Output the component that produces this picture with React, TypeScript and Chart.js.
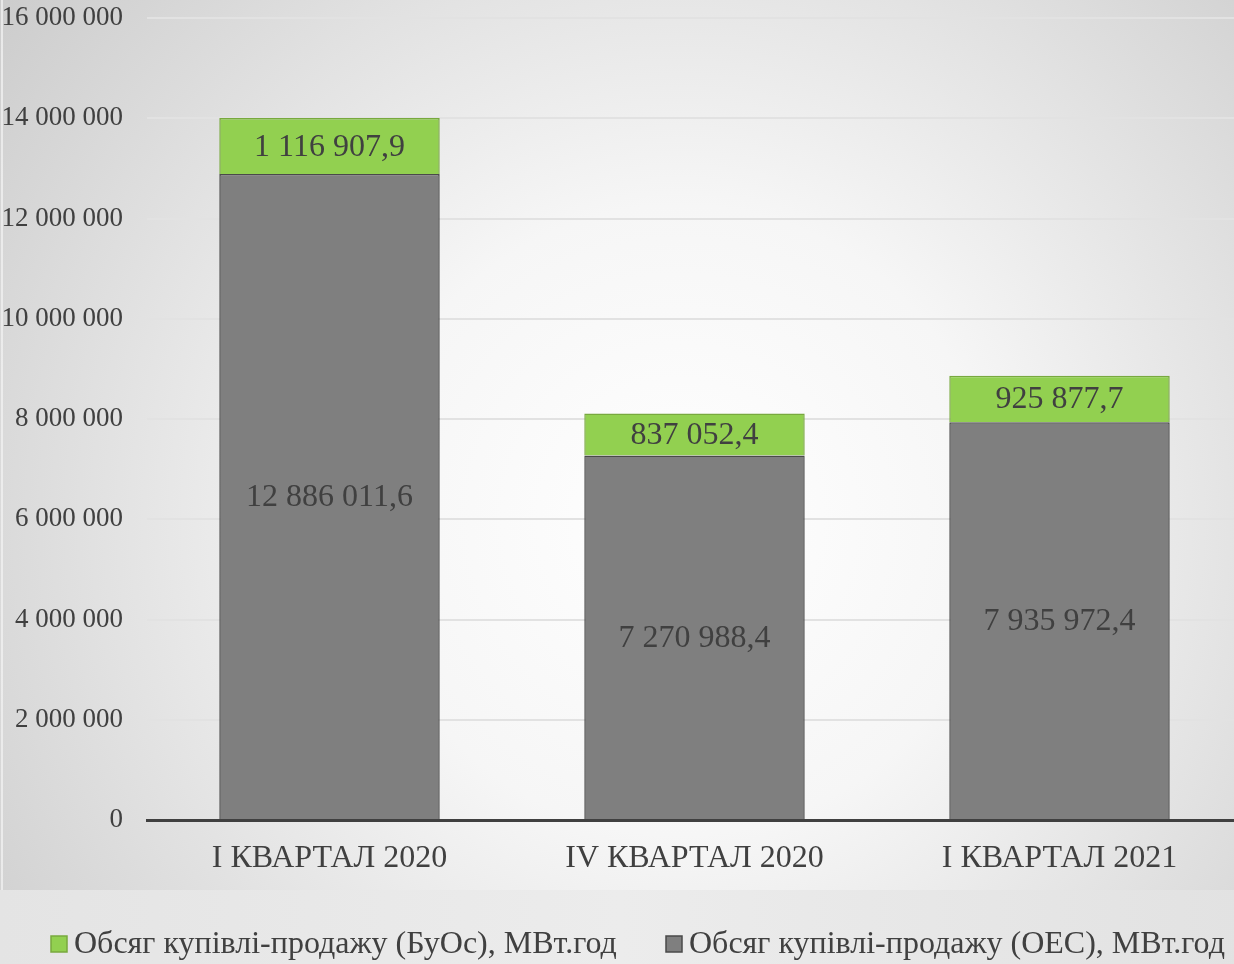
import React, { useEffect, useRef } from "react";
import { Chart, registerables } from "chart.js";

Chart.register(...registerables);

const categories = ["I КВАРТАЛ 2020", "IV КВАРТАЛ 2020", "I КВАРТАЛ 2021"];
const oesValues = [12886011.6, 7270988.4, 7935972.4];
const buosValues = [1116907.9, 837052.4, 925877.7];
const seriesNames = [
  "Обсяг купівлі-продажу (БуОс), МВт.год",
  "Обсяг купівлі-продажу (ОЕС), МВт.год",
];
const yTicks = [0, 2000000, 4000000, 6000000, 8000000, 10000000, 12000000, 14000000, 16000000];

const FONT = "'Liberation Serif', 'Times New Roman', serif";
const GREEN = "#92d050";
const GREEN_BORDER = "#78a93e";
const GRAY = "#7f7f7f";
const GRAY_BORDER = "#4a4a4a";
const TEXT = "#404040";

function groupThousands(intStr: string): string {
  let out = "";
  for (let i = 0; i < intStr.length; i++) {
    const fromEnd = intStr.length - i;
    out += intStr[i];
    if (fromEnd > 1 && (fromEnd - 1) % 3 === 0) out += " ";
  }
  return out;
}

function fmtDecimal(v: number): string {
  const s = v.toFixed(1);
  const [i, d] = s.split(".");
  return groupThousands(i) + "," + d;
}

function fmtInt(v: number): string {
  return groupThousands(Math.round(v).toString());
}

const backgroundPlugin = {
  id: "bgPlugin",
  beforeDraw(chart: any) {
    const { ctx, width, height } = chart;
    ctx.save();
    const g = ctx.createRadialGradient(680, 520, 0, 680, 520, 900);
    g.addColorStop(0, "#ffffff");
    g.addColorStop(0.35, "#f6f6f6");
    g.addColorStop(1, "#c9c9c9");
    ctx.fillStyle = g;
    ctx.fillRect(0, 0, width, 890);
    const g2 = ctx.createLinearGradient(0, 0, width, 0);
    g2.addColorStop(0, "#e4e4e4");
    g2.addColorStop(0.5, "#ececec");
    g2.addColorStop(1, "#e2e2e2");
    ctx.fillStyle = g2;
    ctx.fillRect(0, 890, width, height - 890);
    ctx.fillStyle = "rgba(240,240,240,0.8)";
    ctx.fillRect(1, 0, 2, 890);
    ctx.restore();
  },
};

const labelsPlugin = {
  id: "barLabels",
  afterDatasetsDraw(chart: any) {
    const { ctx } = chart;
    ctx.save();
    ctx.font = `32px ${FONT}`;
    ctx.fillStyle = TEXT;
    ctx.textAlign = "center";
    ctx.textBaseline = "middle";
    chart.data.datasets.forEach((ds: any, di: number) => {
      const meta = chart.getDatasetMeta(di);
      meta.data.forEach((bar: any, i: number) => {
        const y = (bar.y + bar.base) / 2;
        ctx.fillText(fmtDecimal(ds.data[i]), bar.x, y + 1);
      });
    });
    ctx.restore();
  },
  afterDraw(chart: any) {
    const { ctx } = chart;
    ctx.save();
    ctx.font = `32px ${FONT}`;
    ctx.fillStyle = TEXT;
    ctx.textAlign = "left";
    ctx.textBaseline = "middle";
    const items = [
      { x: 51, color: GREEN, border: GREEN_BORDER, text: seriesNames[0] },
      { x: 666, color: GRAY, border: GRAY_BORDER, text: seriesNames[1] },
    ];
    const cy = 944;
    items.forEach((it) => {
      ctx.fillStyle = it.color;
      ctx.fillRect(it.x, cy - 8, 16, 16);
      ctx.strokeStyle = it.border;
      ctx.lineWidth = 1.5;
      ctx.strokeRect(it.x, cy - 8, 16, 16);
      ctx.fillStyle = TEXT;
      ctx.fillText(it.text, it.x + 23, cy + 1);
    });
    ctx.restore();
  },
};

export default function App() {
  const ref = useRef<HTMLCanvasElement>(null);
  useEffect(() => {
    document.body.style.margin = "0";
    const chart = new Chart(ref.current as HTMLCanvasElement, {
      type: "bar",
      data: {
        labels: categories,
        datasets: [
          {
            label: seriesNames[1],
            data: oesValues,
            backgroundColor: GRAY,
            borderColor: GRAY_BORDER,
            borderWidth: 1.5,
            barPercentage: 0.604,
            categoryPercentage: 1,
          },
          {
            label: seriesNames[0],
            data: buosValues,
            backgroundColor: GREEN,
            borderColor: GREEN_BORDER,
            borderWidth: 1.5,
            barPercentage: 0.604,
            categoryPercentage: 1,
          },
        ],
      },
      options: {
        responsive: false,
        animation: false,
        layout: { padding: { top: 0, right: 0, bottom: 0, left: 0 } },
        plugins: {
          legend: { display: false },
          tooltip: { enabled: false },
        },
        scales: {
          x: {
            stacked: true,
            grid: { display: false, drawTicks: false },
            border: { display: true, color: "#404040", width: 3 },
            ticks: {
              color: TEXT,
              font: { family: FONT, size: 32 },
              padding: 19,
              maxRotation: 0,
            },
            afterFit(scale: any) {
              scale.height = 144;
              scale.paddingLeft = 0;
              scale.paddingRight = 0;
            },
          },
          y: {
            stacked: true,
            min: 0,
            max: 16000000,
            afterBuildTicks(scale: any) {
              scale.ticks = yTicks.map((v) => ({ value: v }));
            },
            grid: { color: "#e2e2e2", lineWidth: 2, drawTicks: false },
            border: { display: false },
            ticks: {
              color: TEXT,
              font: { family: FONT, size: 27 },
              padding: 24,
              callback: (v: any) => fmtInt(Number(v)),
            },
            afterFit(scale: any) {
              scale.width = 147;
              scale.paddingTop = 18;
              scale.paddingBottom = 0;
            },
          },
        },
      },
      plugins: [backgroundPlugin, labelsPlugin],
    } as any);
    return () => chart.destroy();
  }, []);
  return (
    <div style={{ position: "absolute", left: 0, top: 0, width: 1234, height: 964, overflow: "hidden" }}>
      <canvas ref={ref} width={1242} height={964} style={{ display: "block" }} />
    </div>
  );
}
